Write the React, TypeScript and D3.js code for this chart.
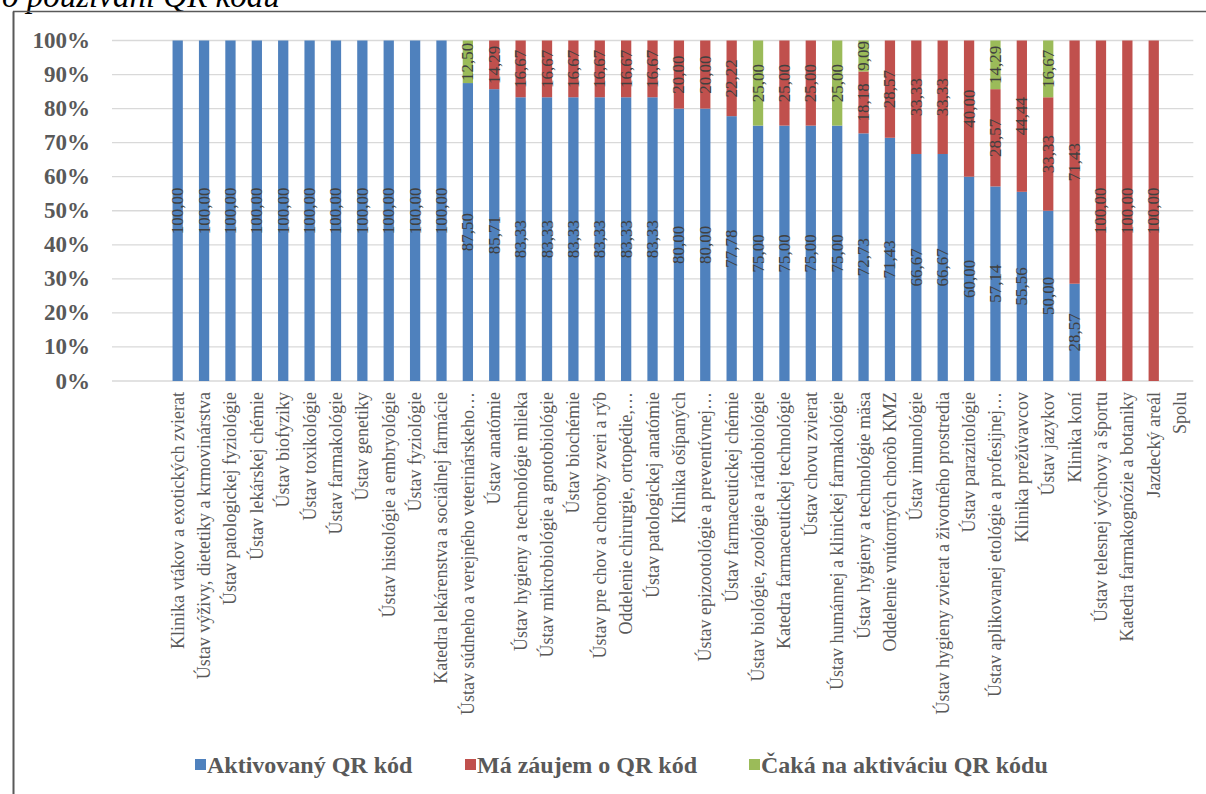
import React from "react";
import * as d3 from "d3";

const categories = [
  "Klinika vtákov a exotických zvierat",
  "Ústav výživy, dietetiky a krmovinárstva",
  "Ústav patologickej fyziológie",
  "Ústav lekárskej chémie",
  "Ústav biofyziky",
  "Ústav toxikológie",
  "Ústav farmakológie",
  "Ústav genetiky",
  "Ústav histológie a embryológie",
  "Ústav fyziológie",
  "Katedra lekárenstva a sociálnej farmácie",
  "Ústav súdneho a verejného veterinárskeho…",
  "Ústav anatómie",
  "Ústav hygieny a technológie mlieka",
  "Ústav mikrobiológie a gnotobiológie",
  "Ústav biochémie",
  "Ústav pre chov a choroby zveri a rýb",
  "Oddelenie chirurgie, ortopédie,…",
  "Ústav patologickej anatómie",
  "Klinika ošípaných",
  "Ústav epizootológie a preventívnej…",
  "Ústav farmaceutickej chémie",
  "Ústav biológie, zoológie a rádiobiológie",
  "Katedra farmaceutickej technológie",
  "Ústav chovu zvierat",
  "Ústav humánnej a klinickej farmakológie",
  "Ústav hygieny a technológie mäsa",
  "Oddelenie vnútorných chorôb KMZ",
  "Ústav imunológie",
  "Ústav hygieny zvierat a životného prostredia",
  "Ústav parazitológie",
  "Ústav aplikovanej etológie a profesijnej…",
  "Klinika prežúvavcov",
  "Ústav jazykov",
  "Klinika koní",
  "Ústav telesnej výchovy a športu",
  "Katedra farmakognózie a botaniky",
  "Jazdecký areál",
  "Spolu",
];

const activated = [
  100, 100, 100, 100, 100, 100, 100, 100, 100, 100, 100,
  87.5, 85.71, 83.33, 83.33, 83.33, 83.33, 83.33, 83.33, 80, 80, 77.78,
  75, 75, 75, 75, 72.73, 71.43, 66.67, 66.67, 60, 57.14, 55.56, 50, 28.57,
  0, 0, 0, 0,
];
const interested = [
  0, 0, 0, 0, 0, 0, 0, 0, 0, 0, 0,
  0, 14.29, 16.67, 16.67, 16.67, 16.67, 16.67, 16.67, 20, 20, 22.22,
  0, 25, 25, 0, 18.18, 28.57, 33.33, 33.33, 40, 28.57, 44.44, 33.33, 71.43,
  100, 100, 100, 0,
];
const waiting = [
  0, 0, 0, 0, 0, 0, 0, 0, 0, 0, 0,
  12.5, 0, 0, 0, 0, 0, 0, 0, 0, 0, 0,
  25, 0, 0, 25, 9.09, 0, 0, 0, 0, 14.29, 0, 16.67, 0,
  0, 0, 0, 0,
];

const seriesNames = ["Aktivovaný QR kód", "Má záujem o QR kód", "Čaká na aktiváciu QR kódu"];
const seriesColors = ["#4F81BD", "#C0504D", "#9BBB59"];
const yTicks = [0, 10, 20, 30, 40, 50, 60, 70, 80, 90, 100];
const titleText = "o používaní QR kódu";

const SERIF = "'Liberation Serif', 'Times New Roman', serif";

export default function App() {
  const W = 1206;
  const H = 794;
  const x = d3
    .scaleBand<string>()
    .domain(categories)
    .range([164.5, 1193.3])
    .paddingInner(0.61)
    .paddingOuter(0.305);
  const y = d3.scaleLinear().domain([0, 100]).range([381, 40.5]);

  const rows = categories.map((c, i) => ({
    cat: c,
    s0: activated[i],
    s1: interested[i],
    s2: waiting[i],
  }));
  const keys = ["s0", "s1", "s2"];
  const stacked = d3.stack<any>().keys(keys)(rows);
  const fmt = (v: number) => d3.format(".2f")(v).replace(".", ",");

  const legendX = [195, 465, 749];

  return (
    <svg
      width={W}
      height={H}
      style={{ position: "absolute", left: 0, top: 0, background: "#fff" }}
      fontFamily={SERIF}
    >
      <rect x={0} y={0} width={W} height={H} fill="#fff" />
      <text x={2} y={7} fontSize={33} fontStyle="italic" fill="#000">
        {titleText}
      </text>
      {/* chart frame */}
      <line x1={13.5} x2={13.5} y1={11.5} y2={H} stroke="#595959" strokeWidth={2} />
      <line x1={13} x2={W} y1={11.5} y2={11.5} stroke="#595959" strokeWidth={1.5} />

      {/* gridlines */}
      {yTicks.map((t) => (
        <line
          key={"g" + t}
          x1={112}
          x2={1193.3}
          y1={y(t)}
          y2={y(t)}
          stroke="#D9D9D9"
          strokeWidth={1.3}
        />
      ))}
      {yTicks.map((t) => (
        <text
          key={"yt" + t}
          x={90}
          y={y(t)}
          textAnchor="end"
          dominantBaseline="central"
          fontSize={23}
          fontWeight="bold"
          fill="#595959"
        >
          {t + "%"}
        </text>
      ))}

      {/* bars */}
      {stacked.map((layer, si) =>
        layer.map((d, i) => {
          const v = d[1] - d[0];
          if (v <= 0) return null;
          return (
            <rect
              key={"b" + si + "-" + i}
              x={x(categories[i])!}
              width={x.bandwidth()}
              y={y(d[1])}
              height={y(d[0]) - y(d[1])}
              fill={seriesColors[si]}
            />
          );
        })
      )}

      {/* data labels */}
      {stacked.map((layer, si) =>
        layer.map((d, i) => {
          const v = d[1] - d[0];
          if (v <= 0) return null;
          const cx = x(categories[i])! + x.bandwidth() / 2;
          const cy = (y(d[0]) + y(d[1])) / 2;
          return (
            <text
              key={"l" + si + "-" + i}
              transform={`translate(${cx},${cy}) rotate(-90)`}
              textAnchor="middle"
              dominantBaseline="central"
              fontSize={17}
              fill="#404040"
            >
              {fmt(v)}
            </text>
          );
        })
      )}

      {/* category labels */}
      {categories.map((c) => {
        const cx = x(c)! + x.bandwidth() / 2;
        return (
          <text
            key={"c" + c}
            transform={`translate(${cx},392) rotate(-90)`}
            textAnchor="end"
            dominantBaseline="central"
            fontSize={18}
            fill="#595959"
          >
            {c}
          </text>
        );
      })}

      {/* legend */}
      {seriesNames.map((n, i) => (
        <g key={"lg" + i}>
          <rect x={legendX[i]} y={759} width={11} height={11} fill={seriesColors[i]} />
          <text
            x={legendX[i] + 12}
            y={765}
            dominantBaseline="central"
            fontSize={24}
            fontWeight="bold"
            fill="#595959"
          >
            {n}
          </text>
        </g>
      ))}
    </svg>
  );
}
